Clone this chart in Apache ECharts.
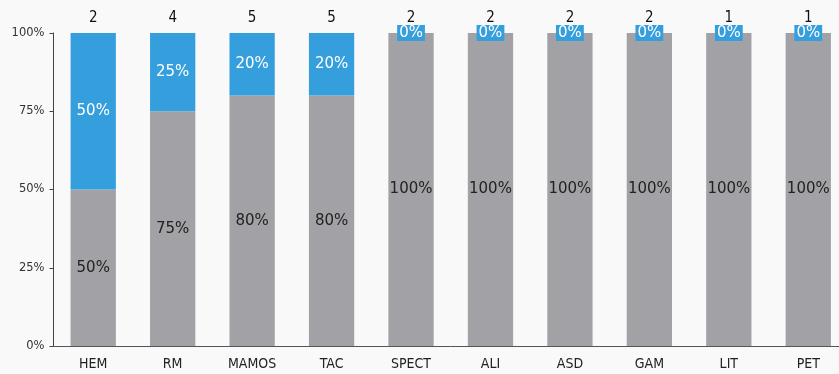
<!DOCTYPE html>
<html><head><meta charset="utf-8">
<script src="https://cdn.jsdelivr.net/npm/echarts@6/dist/echarts.min.js"></script>
<style>html,body{margin:0;padding:0;background:#f9f9f9;overflow:hidden}#c{width:848px;height:374px}</style>
</head><body><div id="c"></div>
<script>
var categories = ['HEM','RM','MAMOS','TAC','SPECT','ALI','ASD','GAM','LIT','PET'];
var counts = [2,4,5,5,2,2,2,2,1,1];
var grayPct = [50,75,80,80,100,100,100,100,100,100];
var bluePct = [50,25,20,20,0,0,0,0,0,0];
var yTicks = [0,25,50,75,100];

var condFont = '"DejaVu Sans Condensed", "DejaVu Sans"';
var chart = echarts.init(document.getElementById('c'));
chart.setOption({
  backgroundColor: '#f9f9f9',
  animation: false,
  textStyle: {fontFamily: 'DejaVu Sans'},
  grid: {left: 53.5, right: 0, top: 33, bottom: 28, containLabel: false},
  xAxis: [{
    type: 'category', data: categories,
    axisLine: {lineStyle: {color: '#555'}},
    axisTick: {show: false},
    axisLabel: {color: '#222', fontSize: 14, margin: 11, fontFamily: condFont}
  },{
    type: 'category', data: counts.map(String), position: 'top',
    axisLine: {show: false}, axisTick: {show: false},
    axisLabel: {color: '#111', fontSize: 15, margin: 7, fontFamily: condFont}
  }],
  yAxis: {
    type: 'value', min: 0, max: 100, interval: 25,
    axisLine: {show: true, lineStyle: {color: '#444'}},
    axisTick: {show: true, length: 4, lineStyle: {color: '#444'}},
    splitLine: {show: false},
    axisLabel: {color: '#333', fontSize: 11.5, margin: 9, formatter: function(v){return yTicks.indexOf(v)>=0 ? v+'%' : '';}}
  },
  series: [{
    type: 'bar', stack: 's', data: grayPct, barWidth: '57%',
    itemStyle: {color: '#a2a2a6'},
    label: {show: true, position: 'inside', color: '#222', fontSize: 15, formatter: '{c}%'}
  },{
    type: 'bar', stack: 's', data: bluePct, barWidth: '57%',
    itemStyle: {color: '#359fdd'},
    label: {show: true, position: 'inside', color: '#fff', fontSize: 15,
      formatter: function(p){return p.value===0 ? '{z|0%}' : p.value+'%';},
      rich: {z: {backgroundColor: '#359fdd', color: '#fff', fontSize: 15, padding: [1,2,0,2]}}}
  }]
});
</script></body></html>
